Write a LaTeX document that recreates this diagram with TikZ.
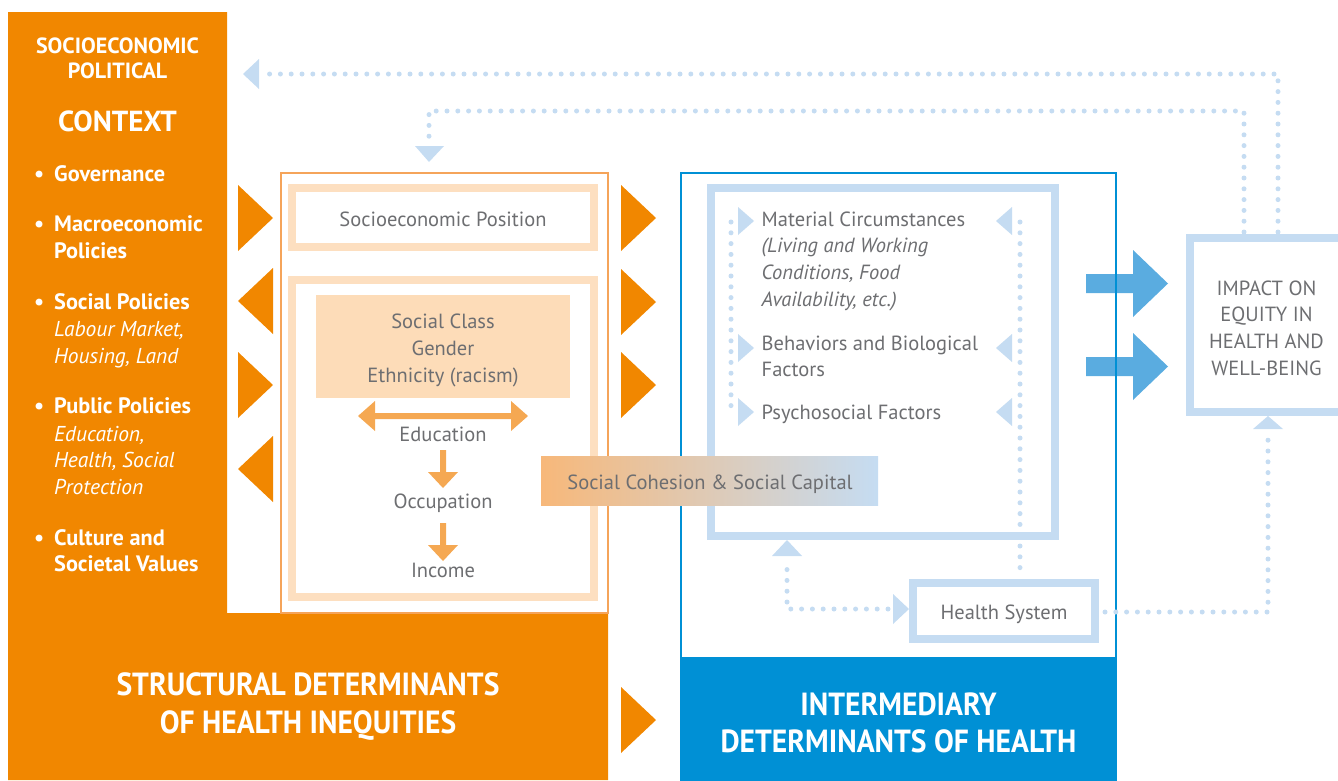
\documentclass[tikz,border=0pt]{standalone}
\usepackage{fontspec}
\setmainfont{PT Sans}
\newfontfamily\condfont[FakeStretch=0.925]{PT Sans}
\definecolor{orng}{HTML}{F18700}
\definecolor{peach}{HTML}{FDDFC0}
\definecolor{peachfill}{HTML}{FDDCB8}
\definecolor{orline}{HTML}{F5A45A}
\definecolor{orarrow}{HTML}{F5A852}
\definecolor{lblue}{HTML}{C5DCF2}
\definecolor{dblue}{HTML}{0090D5}
\definecolor{mblue}{HTML}{5AACE0}
\definecolor{txtgray}{HTML}{6D6E71}
\definecolor{cohor}{HTML}{F7B87A}
\newcommand\gfont{\fontsize{20.5}{27}\selectfont}
\begin{document}
\begin{tikzpicture}[x=1pt,y=-1pt,
  gt/.style={text=txtgray,font=\gfont,inner sep=0pt,anchor=base},
  gtl/.style={gt,anchor=base west},
  gti/.style={gtl,font=\gfont\itshape},
  wb/.style={text=white,font=\bfseries\fontsize{22}{26}\selectfont,inner sep=0pt,anchor=base},
  wl/.style={text=white,font=\bfseries\fontsize{22.3}{27}\selectfont,inner sep=0pt,anchor=base west},
  wi/.style={text=white,font=\itshape\fontsize{21.5}{27}\selectfont,inner sep=0pt,anchor=base west},
  title/.style={text=white,font=\condfont\bfseries\fontsize{32}{38}\selectfont,inner sep=0pt,anchor=base},
  peachbox/.style={draw=peach,line width=8pt,inner sep=0pt},
  blubox/.style={draw=lblue,line width=8pt,inner sep=0pt,fill=white},
  dots/.style={draw=lblue,line width=5pt,line cap=round,dash pattern=on 0pt off 10.8pt},
  otri/.style={fill=orng},
  btri/.style={fill=lblue},
  oarr/.style={fill=orarrow}]
\useasboundingbox (0,0) rectangle (1338,780);
\clip (0,0) rectangle (1338,780);

% left orange panel
\fill[orng] (8,12) -- (227,12) -- (227,613) -- (608,613) -- (608,780) -- (8,780) -- cycle;
\node[wb] (soc) at (117.5,53.3) {SOCIOECONOMIC};
\node[wb] (pol) at (117.5,78.7) {POLITICAL};
\node[text=white,font=\bfseries\fontsize{29}{30}\selectfont,inner sep=0pt,anchor=base] (ctx) at (117.5,131.7) {CONTEXT};
\foreach \n/\y in {b1/181.5,b2/231.7,b3/309.3,b4/413.3,b5/545}
  \node[wl] (\n) at (34,\y) {•};
\node[wl] (gov) at (54,181.5) {Governance};
\node[wl] (mac1) at (54,231.7) {Macroeconomic};
\node[wl] (mac2) at (54,258.2) {Policies};
\node[wl] (socp) at (54,309.3) {Social Policies};
\node[wi] (lab) at (54,336) {Labour Market,};
\node[wi] (hou) at (54,363) {Housing, Land};
\node[wl] (pub) at (54,413.3) {Public Policies};
\node[wi] (edu1) at (54,441) {Education,};
\node[wi] (edu2) at (54,467.7) {Health, Social};
\node[wi] (edu3) at (54,494.3) {Protection};
\node[wl] (cul1) at (54,545) {Culture and};
\node[wl] (cul2) at (54,571.7) {Societal Values};
\node[title] (st1) at (308,695) {STRUCTURAL DETERMINANTS};
\node[title] (st2) at (308,733) {OF HEALTH INEQUITIES};

% orange triangles, left column
\fill[otri] (238,185) -- (273,218) -- (238,251) -- cycle;
\fill[otri] (273,268) -- (238,301) -- (273,334) -- cycle;
\fill[otri] (238,352) -- (273,385) -- (238,418) -- cycle;
\fill[otri] (273,436) -- (238,469) -- (273,502) -- cycle;
% right column
\fill[otri] (621,185) -- (656,218) -- (621,251) -- cycle;
\fill[otri] (621,269) -- (656,302) -- (621,335) -- cycle;
\fill[otri] (621,352) -- (656,385) -- (621,418) -- cycle;
\fill[otri] (621,687) -- (656,720) -- (621,753) -- cycle;

% middle box
\draw[orline,line width=1.3pt] (281,173) rectangle (608,613);
\node[peachbox,minimum width=302,minimum height=59] (sep) at (443,217.5) {};
\node[gt] (septxt) at (443,226) {Socioeconomic Position};
\node[peachbox,minimum width=302,minimum height=317] (scbox) at (443,438.5) {};
\node[fill=peachfill,inner sep=0pt,minimum width=254,minimum height=103] (scl) at (443,346.5) {};
\node[gt] (sc1) at (443,328.3) {Social Class};
\node[gt] (sc2) at (443,355.5) {Gender};
\node[gt] (sc3) at (443,382.7) {Ethnicity (racism)};
\node[gt] (edu) at (443,441) {Education};
\node[gt] (occ) at (443,508.3) {Occupation};
\node[gt] (inc) at (443,577.7) {Income};
\fill[oarr] (358,416) -- (375,401) -- (375,413) -- (511,413) -- (511,401) -- (528,416)
  -- (511,431) -- (511,419) -- (375,419) -- (375,431) -- cycle;
\fill[oarr] (440,450) -- (446,450) -- (446,472) -- (458,472) -- (443,488) -- (428,472) -- (440,472) -- cycle;
\fill[oarr] (440,523) -- (446,523) -- (446,545) -- (458,545) -- (443,561) -- (428,545) -- (440,545) -- cycle;

% fat blue arrows to impact
\fill[mblue] (1086,274) -- (1133,274) -- (1133,250) -- (1168,283.5) -- (1133,317) -- (1133,293) -- (1086,293) -- cycle;
\fill[mblue] (1086,357) -- (1133,357) -- (1133,333) -- (1168,366.5) -- (1133,400) -- (1133,376) -- (1086,376) -- cycle;

% intermediary box
\draw[dblue,line width=2pt] (681,173) rectangle (1116,780);
\fill[dblue] (681,657) rectangle (1116,780);
\node[title] (in1) at (898.5,715.5) {INTERMEDIARY};
\node[title] (in2) at (898.5,752.5) {DETERMINANTS OF HEALTH};
\node[blubox,minimum width=344,minimum height=348] (mat) at (883,362) {};
\node[gtl] (m1) at (761.5,226) {Material Circumstances};
\node[gti] (m2) at (761.5,252.7) {(Living and Working};
\node[gti] (m3) at (761.5,279.3) {Conditions, Food};
\node[gti] (m4) at (761.5,306) {Availability, etc.)};
\node[gtl] (m5) at (761.5,350) {Behaviors and Biological};
\node[gtl] (m6) at (761.5,376.7) {Factors};
\node[gtl] (m7) at (761.5,419) {Psychosocial Factors};
\coordinate (ldt) at (731,222); \coordinate (ldb) at (731,415);
\draw[dots] (ldt) -- (ldb);
\coordinate (rdt) at (1020,222); \coordinate (rdb) at (1020,575);
\draw[dots] (rdt) -- (rdb);
\foreach \c in {221,348,412}{
  \fill[btri] (738,\c-14) -- (754,\c) -- (738,\c+14) -- cycle;
  \fill[btri] (1012,\c-14) -- (996,\c) -- (1012,\c+14) -- cycle;}

% health system
\node[blubox,minimum width=182,minimum height=56] (hs) at (1004,611) {};
\node[gt] (hstxt) at (1004,619.3) {Health System};
\coordinate (hsl) at (888,609); \coordinate (hsc) at (787,609); \coordinate (hsu) at (787,563);
\draw[dots] (hsl) -- (hsc) -- (hsu);
\fill[btri] (893,594) -- (909,609) -- (893,624) -- cycle;
\fill[btri] (772,556) -- (787,540) -- (802,556) -- cycle;

% impact box
\node[draw=lblue,line width=8pt,inner sep=0pt,minimum width=152,minimum height=174] (imp) at (1266,325) {};
\node[gt] (i1) at (1266.5,295) {IMPACT ON};
\node[gt] (i2) at (1266.5,321.7) {EQUITY IN};
\node[gt] (i3) at (1266.5,348.3) {HEALTH AND};
\node[gt] (i4) at (1266.5,375) {WELL-BEING};
\coordinate (hr) at (1105,612); \coordinate (hrc) at (1268,612); \coordinate (hru) at (1268,434);
\draw[dots] (hr) -- (hrc) -- (hru);
\fill[btri] (1253,429) -- (1268,416) -- (1283,429) -- cycle;

% top feedback loops
\coordinate (t1a) at (1278,232); \coordinate (t1b) at (1278,74); \coordinate (t1c) at (262,74);
\draw[dots] (t1a) -- (t1b) -- (t1c);
\fill[btri] (259,59) -- (243,74) -- (259,89) -- cycle;
\coordinate (t2a) at (1244,232); \coordinate (t2b) at (1244,111); \coordinate (t2c) at (429,111); \coordinate (t2d) at (429,141);
\draw[dots] (t2a) -- (t2b) -- (t2c) -- (t2d);
\fill[btri] (415,146) -- (429,162) -- (444,146) -- cycle;

% social cohesion
\node[inner sep=0pt,minimum width=337,minimum height=49,left color=cohor,middle color=white,right color=lblue] (coh) at (709.5,480.5) {};
\node[gt] (cohtxt) at (710,489) {Social Cohesion \& Social Capital};
\end{tikzpicture}
\end{document}
